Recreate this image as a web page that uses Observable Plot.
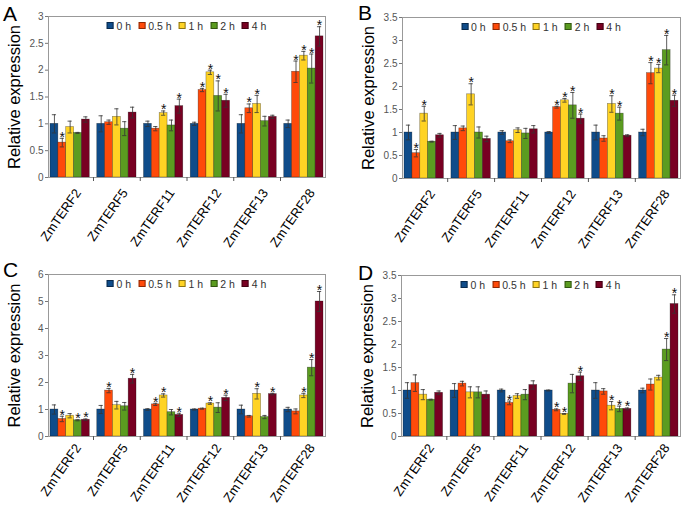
<!DOCTYPE html>
<html><head><meta charset="utf-8">
<script src="https://cdn.jsdelivr.net/npm/d3@7"></script>
<script src="https://cdn.jsdelivr.net/npm/@observablehq/plot@0.6"></script>
<style>
body{margin:0;background:#fff;font-family:"Liberation Sans",Arial,sans-serif;}
#root{position:relative;width:683px;height:507px;overflow:hidden;background:#fff;}
.panel{position:absolute;}
.panel svg{position:absolute;left:0;top:0;}
.letter{position:absolute;font-size:21px;line-height:21px;color:#000;}
.legend{position:absolute;display:flex;align-items:center;transform:translate(-50%,-50%);font-size:10.5px;color:#333;white-space:nowrap;}
.legend .it{display:flex;align-items:center;margin:0 3.5px;}
.legend .sw{width:7px;height:7px;box-sizing:border-box;border:1px solid rgba(0,0,0,0.45);margin-right:3px;}
</style></head><body><div id="root"></div>
<script>
const genes = ["ZmTERF2","ZmTERF5","ZmTERF11","ZmTERF12","ZmTERF13","ZmTERF28"];
const times = ["0 h","0.5 h","1 h","2 h","4 h"];
const colors = ["#0f4c8a","#ff4a0a","#ffd324","#5b9c20","#780022"];

// Panel A (rows = time points, columns = genes)
const valA = [
  [1.00,1.00,1.00,1.00,1.00,1.00],
  [0.65,1.03,0.91,1.63,1.29,1.97],
  [0.94,1.13,1.20,1.96,1.37,2.27],
  [0.83,0.91,0.97,1.52,1.05,2.03],
  [1.08,1.21,1.33,1.43,1.13,2.63]];
const errA = [
  [0.17,0.15,0.05,0.03,0.17,0.07],
  [0.08,0.04,0.04,0.03,0.08,0.20],
  [0.11,0.15,0.04,0.04,0.16,0.08],
  [0.01,0.13,0.10,0.28,0.09,0.27],
  [0.05,0.10,0.13,0.12,0.03,0.18]];
const sigA = [
  [0,0,0,0,0,0],
  [1,0,0,1,1,1],
  [0,0,1,1,1,1],
  [0,0,0,1,0,1],
  [0,0,1,1,0,1]];
const ticksA = [0,0.5,1,1.5,2,2.5,3];

// Panel B
const valB = [
  [1.00,1.00,1.00,1.00,1.00,1.00],
  [0.55,1.09,0.81,1.55,0.87,2.29],
  [1.41,1.83,1.05,1.70,1.62,2.39],
  [0.80,1.00,0.98,1.59,1.41,2.79],
  [0.94,0.86,1.07,1.30,0.93,1.69]];
const errB = [
  [0.16,0.15,0.04,0.02,0.16,0.07],
  [0.08,0.05,0.03,0.02,0.06,0.23],
  [0.16,0.23,0.05,0.04,0.18,0.09],
  [0.01,0.12,0.11,0.28,0.14,0.32],
  [0.04,0.06,0.08,0.10,0.02,0.12]];
const sigB = [
  [0,0,0,0,0,0],
  [1,0,0,1,0,1],
  [1,1,0,1,1,1],
  [0,0,0,1,1,1],
  [0,0,0,1,0,1]];
const ticksB = [0,0.5,1,1.5,2,2.5,3,3.5];

// Panel C
const valC = [
  [1.00,1.00,1.00,1.00,1.00,1.00],
  [0.65,1.70,1.19,1.03,0.75,0.93],
  [0.77,1.16,1.52,1.22,1.58,1.52],
  [0.60,1.12,0.90,1.07,0.72,2.55],
  [0.62,2.14,0.80,1.43,1.57,5.00]];
const errC = [
  [0.17,0.15,0.03,0.02,0.16,0.08],
  [0.10,0.08,0.04,0.02,0.03,0.09],
  [0.08,0.14,0.06,0.03,0.19,0.08],
  [0.02,0.14,0.10,0.18,0.06,0.30],
  [0.03,0.16,0.06,0.10,0.03,0.37]];
const sigC = [
  [0,0,0,0,0,0],
  [1,1,1,0,0,0],
  [0,0,1,1,1,1],
  [1,0,0,0,0,1],
  [1,1,1,1,1,1]];
const ticksC = [0,1,2,3,4,5,6];

// Panel D
const valD = [
  [1.00,1.00,1.00,1.00,1.00,1.00],
  [1.16,1.15,0.73,0.58,0.98,1.13],
  [0.91,0.96,0.88,0.49,0.67,1.28],
  [0.80,0.96,0.91,1.15,0.60,1.89],
  [0.95,0.91,1.12,1.31,0.60,2.88]];
const errD = [
  [0.17,0.15,0.03,0.01,0.17,0.05],
  [0.18,0.05,0.04,0.02,0.06,0.12],
  [0.11,0.12,0.05,0.01,0.09,0.05],
  [0.01,0.12,0.11,0.20,0.06,0.24],
  [0.04,0.08,0.09,0.09,0.02,0.20]];
const sigD = [
  [0,0,0,0,0,0],
  [0,0,1,1,0,0],
  [0,0,0,1,1,0],
  [0,0,0,0,1,1],
  [0,0,0,1,1,1]];
const ticksD = [0,0.5,1,1.5,2,2.5,3,3.5];

const yLabel = "Relative expression";
const panelLetters = ["A","B","C","D"];

const panels = [
  {letter:panelLetters[0], val:valA, err:errA, sig:sigA, ticks:ticksA, left:0,   top:0,   w:340, h:258, mL:48, mR:15, mT:16, mB:81, lx:3,  ly:3, tp:13},
  {letter:panelLetters[1], val:valB, err:errB, sig:sigB, ticks:ticksB, left:340, top:0,   w:343, h:258, mL:62, mR:3,  mT:17, mB:80, lx:18, ly:2, tp:13},
  {letter:panelLetters[2], val:valC, err:errC, sig:sigC, ticks:ticksC, left:0,   top:258, w:340, h:249, mL:48, mR:15, mT:16, mB:71, lx:3,  ly:1, tp:9},
  {letter:panelLetters[3], val:valD, err:errD, sig:sigD, ticks:ticksD, left:340, top:258, w:343, h:249, mL:61, mR:3,  mT:17, mB:71, lx:18, ly:4, tp:9}
];

const root = document.getElementById("root");
const bw = 0.168, cap = 0.045;

for (const cfg of panels) {
  const rows = [];
  genes.forEach((g, gi) => times.forEach((t, ti) => rows.push({
    gi, ti, gene: g, time: t, v: cfg.val[ti][gi], e: cfg.err[ti][gi], sig: cfg.sig[ti][gi]
  })));
  const pos = d => d.gi + (d.ti - 2) * bw;
  const ymax = cfg.ticks[cfg.ticks.length - 1];
  const plot = Plot.plot({
    width: cfg.w, height: cfg.h,
    marginLeft: cfg.mL, marginRight: cfg.mR, marginTop: cfg.mT, marginBottom: cfg.mB,
    style: {fontFamily: '"Liberation Sans", Arial, sans-serif', background: "transparent", overflow: "visible"},
    x: {domain: [-0.463, genes.length - 1 + 0.463]},
    y: {domain: [0, ymax]},
    color: {domain: times, range: colors},
    marks: [
      Plot.rectY(rows, {x1: d => pos(d) - bw/2, x2: d => pos(d) + bw/2, y1: 0, y2: "v", fill: "time",
        stroke: "#000", strokeOpacity: 0.45, strokeWidth: 0.6}),
      Plot.ruleX(rows, {x: pos, y1: d => d.v - d.e, y2: d => d.v + d.e, stroke: "#333", strokeWidth: 0.8}),
      Plot.ruleY(rows, {y: d => d.v + d.e, x1: d => pos(d) - cap, x2: d => pos(d) + cap, stroke: "#333", strokeWidth: 0.8}),
      Plot.ruleY(rows, {y: d => d.v - d.e, x1: d => pos(d) - cap, x2: d => pos(d) + cap, stroke: "#333", strokeWidth: 0.8}),
      Plot.text(rows.filter(d => d.sig), {x: pos, y: d => d.v + d.e, text: () => "*", fontSize: 14, dy: -1, fill: "#111"}),
      Plot.frame({stroke: "#999"}),
      Plot.axisY({ticks: cfg.ticks, tickSize: 3, tickPadding: 2, tickFormat: d => String(d), fontSize: 10, fill: "#555", stroke: "#777", label: null}),
      Plot.axisX({ticks: d3.range(genes.length), tickFormat: i => genes[i], tickRotate: -55, tickSize: 0, tickPadding: cfg.tp, dx: 8, fontSize: 13, fill: "#000", label: null}),
      Plot.axisX({ticks: d3.range(genes.length - 1).map(i => i + 0.5), tickFormat: () => "", tickSize: 4, stroke: "#555", label: null}),
      Plot.text([yLabel], {frameAnchor: "left", textAnchor: "middle", rotate: -90, dx: -34, fontSize: 16.5, fill: "#000"})
    ]
  });
  const div = document.createElement("div");
  div.className = "panel";
  Object.assign(div.style, {left: cfg.left + "px", top: cfg.top + "px", width: cfg.w + "px", height: cfg.h + "px"});
  div.appendChild(plot);
  const letter = document.createElement("div");
  letter.className = "letter";
  letter.textContent = cfg.letter;
  Object.assign(letter.style, {left: cfg.lx + "px", top: cfg.ly + "px"});
  div.appendChild(letter);
  const leg = document.createElement("div");
  leg.className = "legend";
  const cx = cfg.mL + (cfg.w - cfg.mL - cfg.mR) / 2;
  Object.assign(leg.style, {left: cx + "px", top: (cfg.mT + 9.5) + "px"});
  times.forEach((t, i) => {
    const it = document.createElement("span"); it.className = "it";
    const sw = document.createElement("span"); sw.className = "sw"; sw.style.background = colors[i];
    const tx = document.createElement("span"); tx.textContent = t;
    it.appendChild(sw); it.appendChild(tx); leg.appendChild(it);
  });
  div.appendChild(leg);
  root.appendChild(div);
}
</script></body></html>
